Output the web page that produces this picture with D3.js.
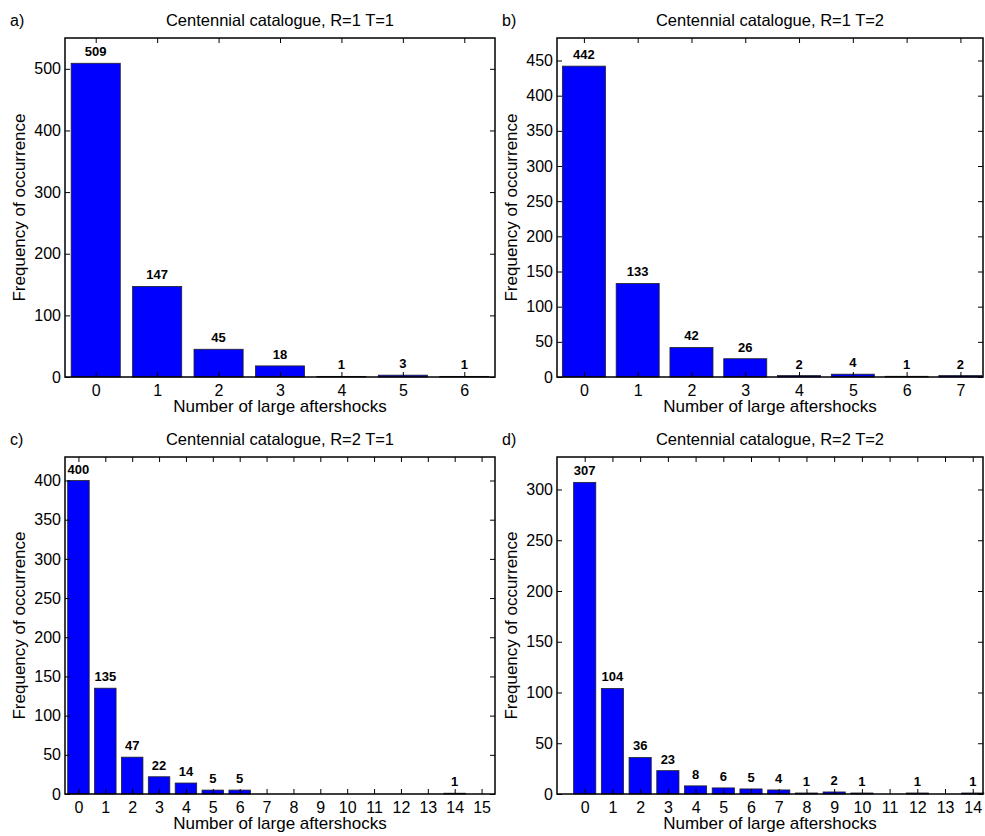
<!DOCTYPE html>
<html>
<head>
<meta charset="utf-8">
<script src="https://cdn.jsdelivr.net/npm/d3@7"></script>
<style>
  html, body { margin: 0; padding: 0; background: #fff; }
  svg { display: block; font-family: "Liberation Sans", Arial, Helvetica, sans-serif; }
</style>
</head>
<body>
<svg id="chart" width="985" height="836"></svg>
<script>
// ---- data ----
const panelLetters = ["a)", "b)", "c)", "d)"];
const panelTitles = [
  "Centennial catalogue, R=1 T=1",
  "Centennial catalogue, R=1 T=2",
  "Centennial catalogue, R=2 T=1",
  "Centennial catalogue, R=2 T=2"
];
const categoriesA = [0, 1, 2, 3, 4, 5, 6];
const valuesA = [509, 147, 45, 18, 1, 3, 1];
const categoriesB = [0, 1, 2, 3, 4, 5, 6, 7];
const valuesB = [442, 133, 42, 26, 2, 4, 1, 2];
const categoriesC = [0, 1, 2, 3, 4, 5, 6, 7, 8, 9, 10, 11, 12, 13, 14, 15];
const valuesC = [400, 135, 47, 22, 14, 5, 5, 0, 0, 0, 0, 0, 0, 0, 1, 0];
const categoriesD = [0, 1, 2, 3, 4, 5, 6, 7, 8, 9, 10, 11, 12, 13, 14];
const valuesD = [307, 104, 36, 23, 8, 6, 5, 4, 1, 2, 1, 0, 1, 0, 1];
const yTicksA = [0, 100, 200, 300, 400, 500];
const yTicksB = [0, 50, 100, 150, 200, 250, 300, 350, 400, 450];
const yTicksC = [0, 50, 100, 150, 200, 250, 300, 350, 400];
const yTicksD = [0, 50, 100, 150, 200, 250, 300];
const xLabel = "Number of large aftershocks";
const yLabel = "Frequency of occurrence";

// ---- layout (pixel boxes and axis limits) ----
const panels = [
  { cats: categoriesA, vals: valuesA, yTicks: yTicksA, x0: 65,  x1: 495, y0: 38,  y1: 377, xlim: [-0.5, 6.5],  ylim: [0, 550] },
  { cats: categoriesB, vals: valuesB, yTicks: yTicksB, x0: 557, x1: 983, y0: 38,  y1: 377, xlim: [-0.5, 7.42], ylim: [0, 482] },
  { cats: categoriesC, vals: valuesC, yTicks: yTicksC, x0: 65,  x1: 495, y0: 457, y1: 794, xlim: [-0.5, 15.5], ylim: [0, 430] },
  { cats: categoriesD, vals: valuesD, yTicks: yTicksD, x0: 557, x1: 983, y0: 457, y1: 794, xlim: [-1, 14.37],  ylim: [0, 332] }
];

const svg = d3.select("#chart");
const tickLen = 5;
const FONT = "Liberation Sans, Arial, sans-serif";

panels.forEach((p, i) => {
  const x = d3.scaleLinear().domain(p.xlim).range([p.x0, p.x1]);
  const y = d3.scaleLinear().domain(p.ylim).range([p.y1, p.y0]);
  const g = svg.append("g");
  const unit = x(1) - x(0);
  const bw = 0.8 * unit;
  const rows = p.cats.map((c, k) => ({ c, v: p.vals[k] }));

  // bars
  g.selectAll("rect.bar").data(rows)
    .enter().append("rect")
    .attr("class", "bar")
    .attr("x", d => x(d.c) - bw / 2)
    .attr("width", bw)
    .attr("y", d => y(d.v))
    .attr("height", d => Math.max(0, y(0) - y(d.v)))
    .attr("fill", "#0000ff")
    .attr("stroke", d => d.v > 0 ? "#222" : "none")
    .attr("stroke-width", 0.8);

  // value labels
  g.selectAll("text.val").data(rows.filter(d => d.v > 0))
    .enter().append("text")
    .attr("class", "val")
    .attr("x", d => x(d.c))
    .attr("y", d => y(d.v) - 7)
    .attr("text-anchor", "middle")
    .attr("font-size", 13)
    .attr("font-weight", "bold")
    .text(d => d.v);

  // axes (bottom, left) with inward ticks
  const xAxis = d3.axisBottom(x).tickValues(p.cats).tickFormat(d3.format("d"))
    .tickSizeInner(-tickLen).tickSizeOuter(0).tickPadding(8);
  const gx = g.append("g").attr("transform", `translate(0,${p.y1})`).call(xAxis);
  gx.select(".domain").remove();
  gx.selectAll("text").attr("font-size", 16).attr("font-family", FONT).attr("fill", "#000");

  const yAxis = d3.axisLeft(y).tickValues(p.yTicks).tickFormat(d3.format("d"))
    .tickSizeInner(-tickLen).tickSizeOuter(0).tickPadding(4);
  const gy = g.append("g").attr("transform", `translate(${p.x0},0)`).call(yAxis);
  gy.select(".domain").remove();
  gy.selectAll("text").attr("font-size", 16).attr("font-family", FONT).attr("fill", "#000");

  // mirrored ticks (top, right)
  const xTop = d3.axisTop(x).tickValues(p.cats).tickFormat("").tickSizeInner(-tickLen).tickSizeOuter(0);
  const gxt = g.append("g").attr("transform", `translate(0,${p.y0})`).call(xTop);
  gxt.select(".domain").remove();
  const yRight = d3.axisRight(y).tickValues(p.yTicks).tickFormat("").tickSizeInner(-tickLen).tickSizeOuter(0);
  const gyr = g.append("g").attr("transform", `translate(${p.x1},0)`).call(yRight);
  gyr.select(".domain").remove();
  g.selectAll(".tick line").attr("stroke", "#000").attr("stroke-width", 1);

  // frame
  g.append("rect")
    .attr("x", p.x0).attr("y", p.y0)
    .attr("width", p.x1 - p.x0).attr("height", p.y1 - p.y0)
    .attr("fill", "none").attr("stroke", "#000").attr("stroke-width", 1.5);

  // title & panel letter
  g.append("text")
    .attr("x", (p.x0 + p.x1) / 2).attr("y", p.y0 - 12)
    .attr("text-anchor", "middle").attr("font-size", 16.5)
    .text(panelTitles[i]);
  g.append("text")
    .attr("x", p.x0 - 55).attr("y", p.y0 - 12)
    .attr("font-size", 16)
    .text(panelLetters[i]);

  // axis labels
  g.append("text")
    .attr("x", (p.x0 + p.x1) / 2).attr("y", p.y1 + 35)
    .attr("text-anchor", "middle").attr("font-size", 17)
    .text(xLabel);
  g.append("text")
    .attr("transform", `translate(${p.x0 - 40},${(p.y0 + p.y1) / 2}) rotate(-90)`)
    .attr("text-anchor", "middle").attr("font-size", 17)
    .text(yLabel);
});
</script>
</body>
</html>
